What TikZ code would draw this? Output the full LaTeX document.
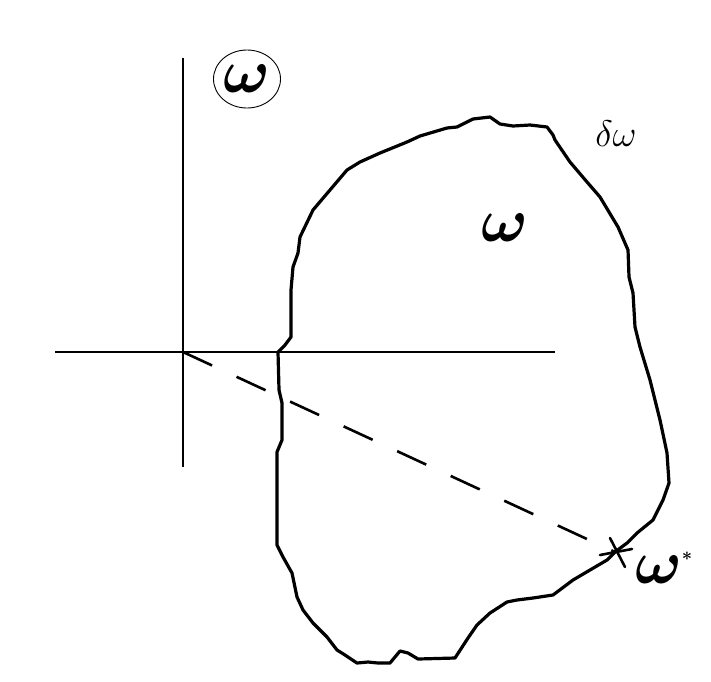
\RequirePackage{fix-cm}
\documentclass[tikz,border=0pt]{standalone}
\usepackage{amsmath}
\usepackage{tikz}
\usetikzlibrary{shapes.geometric}
\tikzset{
  axisline/.style = {line width=2.9pt, line cap=butt},
  boundary/.style = {line width=3.2pt, line join=round, line cap=round},
  ray/.style      = {line width=2.6pt, dash pattern=on 32pt off 27pt},
  starline/.style = {line width=2.6pt, line cap=round},
  omg/.style      = {inner sep=0pt, font=\fontsize{62}{62}\selectfont\boldmath},
  thin/.style     = {inner sep=0pt, font=\fontsize{37}{37}\selectfont},
  ring/.style     = {ellipse, draw, line width=0.9pt, minimum width=67pt, minimum height=58pt},
}

\begin{document}
\begin{tikzpicture}[x=1pt, y=-1pt]
  \useasboundingbox (0,0) rectangle (711,681);
  % axes
  \coordinate (o)  at (183,352);
  \coordinate (xl) at (55,352);
  \coordinate (xr) at (555,352);
  \coordinate (yt) at (183,58);
  \coordinate (yb) at (183,467);
  \draw[axisline] (xl) -- (xr);
  \draw[axisline] (yt) -- (yb);
  % the region and its boundary
  \draw[boundary] (300,237) -- (313,210) -- (330,190) -- (347,170) -- (360,162)
    -- (380,153) -- (407,142) -- (420,136) -- (447,128) -- (457,127) -- (473,119)
    -- (490,117) -- (500,124) -- (513,126) -- (530,125) -- (547,127) -- (553,135)
    -- (555,140) -- (570,162) -- (587,182) -- (600,197) -- (618,227) -- (628,250)
    -- (629,277) -- (633,293) -- (635,327) -- (640,347) -- (650,380) -- (660,420)
    -- (667,453) -- (669,483) -- (663,500) -- (653,520) -- (637,533) -- (627,543)
    -- (615,552) -- (607,560) -- (590,570) -- (573,580) -- (553,595) -- (533,598)
    -- (517,600) -- (507,602) -- (490,613) -- (477,625) -- (468,638) -- (455,658)
    -- (418,659) -- (408,653) -- (400,651) -- (390,663) -- (378,663) -- (368,662)
    -- (357,663) -- (345,655) -- (337,650) -- (327,637) -- (313,623) -- (303,610)
    -- (297,597) -- (292,573) -- (283,557) -- (277,545) -- (277,452) -- (282,440)
    -- (282,403) -- (279,390) -- (278,352) -- (285,345) -- (291,337) -- (291,290)
    -- (293,267) -- (298,253) -- cycle;
  % ray to the boundary point
  \coordinate (wpt) at (615,552);
  \draw[ray] (o) -- (wpt);
  \draw[starline] (wpt) ++(-5,-14) -- ++(15,29);
  \draw[starline] (wpt) ++(-15,3) -- ++(32,-6);
  % labels
  \node[omg, ring] (wtop) at (247,79) {$\omega$};
  \node[omg] (wmid) at (505,228) {$\omega$};
  \node[thin] (dw) at (616,134) {$\delta\omega$};
  \node[omg, anchor=base] (wst) at (664,583)
    {$\omega^{\hbox{\fontsize{18}{18}\selectfont$*$}}$};
\end{tikzpicture}
\end{document}
